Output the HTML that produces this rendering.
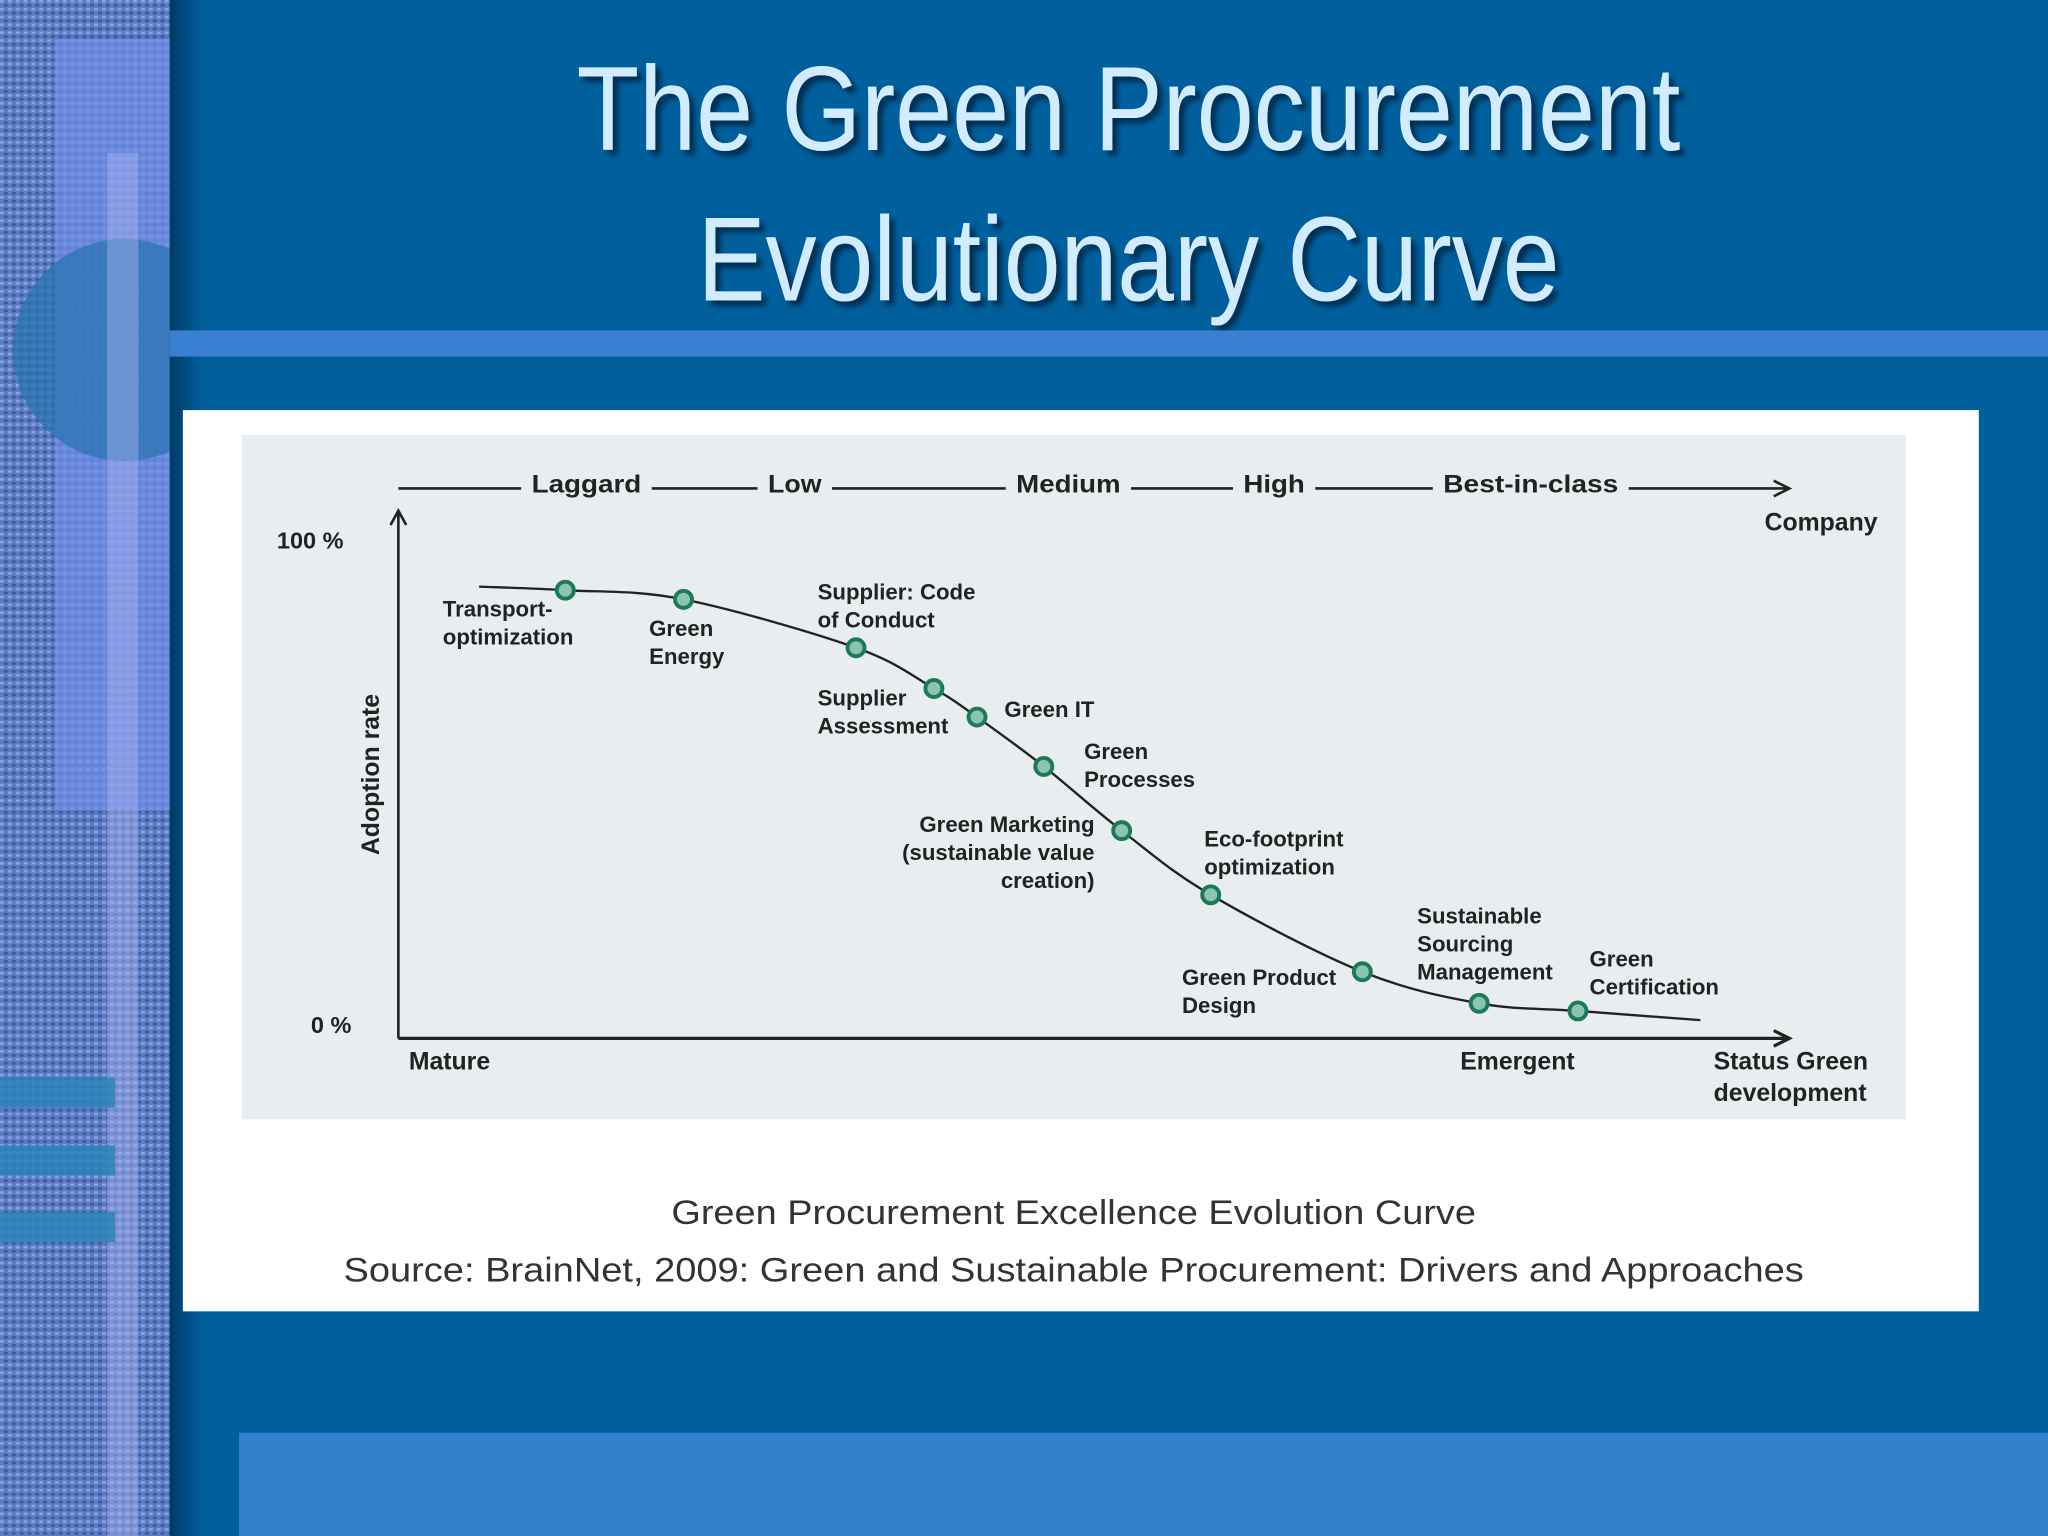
<!DOCTYPE html>
<html><head><meta charset="utf-8"><style>
html,body{margin:0;padding:0;background:#00609e;}
svg{display:block;}
text{font-family:"Liberation Sans",sans-serif;}
</style></head><body>
<svg width="2048" height="1536" viewBox="0 0 1568 1176" xmlns="http://www.w3.org/2000/svg">
<defs>
<pattern id="tex" width="6" height="6" patternUnits="userSpaceOnUse">
<rect width="6" height="6" fill="#5b7bc4"/><rect width="3" height="2" fill="#8aa4e0"/><rect x="3" y="3" width="3" height="2" fill="#3c5aa0"/>
</pattern>
<clipPath id="sideclip"><rect width="130" height="1176"/></clipPath>
<linearGradient id="edge" x1="0" x2="1"><stop offset="0" stop-color="#013a66"/><stop offset="1" stop-color="#00609e"/></linearGradient>
<filter id="sh"><feDropShadow dx="4" dy="4" stdDeviation="2" flood-color="#012a4a" flood-opacity="0.9"/></filter>
</defs>
<rect width="1568" height="1176" fill="#00609e"/>
<g clip-path="url(#sideclip)">
<rect width="130" height="1176" fill="url(#tex)"/>
<rect x="42" y="30" width="88" height="590" fill="#6f8fe8" opacity="0.7"/>
<circle cx="95" cy="268" r="85" fill="#2a74b0" opacity="0.75"/>
<rect x="82" y="117" width="24" height="1059" fill="#a8b4f0" opacity="0.45"/>
<rect x="0" y="825" width="88" height="23" fill="#2a82b8" opacity="0.85"/>
<rect x="0" y="877" width="88" height="23" fill="#2a82b8" opacity="0.85"/>
<rect x="0" y="928" width="88" height="23" fill="#2a82b8" opacity="0.85"/>
</g>
<rect x="130" y="0" width="25" height="1176" fill="url(#edge)"/>
<g filter="url(#sh)" fill="#d2ecff" font-size="92" text-anchor="middle">
<text x="864" y="115" textLength="845" lengthAdjust="spacingAndGlyphs" style="font-family:'Liberation Sans Narrow','Liberation Sans',sans-serif">The Green Procurement</text>
<text x="864" y="230" textLength="660" lengthAdjust="spacingAndGlyphs" style="font-family:'Liberation Sans Narrow','Liberation Sans',sans-serif">Evolutionary Curve</text>
</g>
<rect x="130" y="253" width="1438" height="20" fill="#3a80d0"/>
<rect x="183" y="1097" width="1385" height="79" fill="#3580cc"/>
<rect x="140" y="314" width="1375" height="690" fill="#fff"/>
<rect x="185" y="333" width="1274" height="524" fill="#e8eef0"/>
<g id="chart"></g>
<g fill="#333" font-size="26" text-anchor="middle">
<text x="822" y="937" textLength="616" lengthAdjust="spacingAndGlyphs">Green Procurement Excellence Evolution Curve</text>
<text x="822" y="981" textLength="1118" lengthAdjust="spacingAndGlyphs">Source: BrainNet, 2009: Green and Sustainable Procurement: Drivers and Approaches</text>
</g>
</svg>
<script>
const labels=["Transport-optimization","Green Energy","Supplier: Code of Conduct","Supplier Assessment","Green IT","Green Processes","Green Marketing","Eco-footprint optimization","Green Product Design","Sustainable Sourcing Management","Green Certification"];
const status=[12.0,20.5,32.9,38.5,41.6,46.4,52.0,58.4,69.3,77.7,84.8];
const adoption=[86.7,84.9,75.4,67.4,61.8,52.1,39.5,26.9,11.8,5.6,4.1];
const curveStart=[5.8,87.4];
const curveEnd=[93.6,2.3];
const stages=["Laggard","Low","Medium","High","Best-in-class"];
const NS="http://www.w3.org/2000/svg";
const sx=v=>305+v*(1370-305)/100;
const sy=v=>790-v*390/100;
const g=document.getElementById('chart');
function mk(t,a,txt){const e=document.createElementNS(NS,t);for(const k in a)e.setAttribute(k,a[k]);if(txt!=null)e.textContent=txt;g.appendChild(e);return e;}
let e=mk('path',{d:'M305,795 L305,392 M299,402 L305,391 L311,402',stroke:'#222','stroke-width':2,fill:'none'});


e=mk('path',{d:'M305,795 L1370,795 M1358,789 L1370,795 L1358,801',stroke:'#222','stroke-width':2.5,fill:'none'});


e=mk('path',{d:'M305,374 L1370,374 M1358,368 L1370,374 L1358,380',stroke:'#222','stroke-width':2,fill:'none'});


const stageX=[407,588,778,952,1105];
const stageW=[84,41,80,47,134];
stages.forEach((s,i)=>{
 let r=mk('rect',{x:stageX[i]-8,y:360,width:stageW[i]+16,height:28,fill:'#e8eef0'});
 
 
 let t=mk('text',{x:stageX[i],y:377,'font-size':19,'font-weight':'bold',fill:'#222',textLength:stageW[i],lengthAdjust:'spacingAndGlyphs'},s);
 
 
});
function txt(x,y,lines,anchor,name,size,lh){
 const t=mk('text',{x:x,y:y,'font-size':size||17,'font-weight':'bold',fill:'#222','text-anchor':anchor||'start'});
 
 
 lines.forEach((l,i)=>{const ts=document.createElementNS(NS,'tspan');ts.setAttribute('x',x);ts.setAttribute('dy',i?(lh||21.5):0);ts.textContent=l;t.appendChild(ts);});
}
txt(1351,406,["Company"],'start','company-label',19);
txt(212,420,["100 %"],'start','y-tick-100',18);
txt(238,791,["0 %"],'start','y-tick-0',18);
txt(313,819,["Mature"],'start','mature-label',19);
txt(1118,819,["Emergent"],'start','emergent-label',19);
txt(1312,819,["Status Green","development"],'start','x-axis-title',19,24);
const yt=mk('text',{x:0,y:0,'font-size':19,'font-weight':'bold',fill:'#222','text-anchor':'middle',transform:'translate(290,593) rotate(-90)'},'Adoption rate');


const pts=[[sx(curveStart[0]),sy(curveStart[1])]];
status.forEach((v,i)=>pts.push([sx(v),sy(adoption[i])]));
pts.push([sx(curveEnd[0]),sy(curveEnd[1])]);
let d='M'+pts[0][0]+','+pts[0][1];
for(let i=0;i<pts.length-1;i++){const p0=pts[Math.max(0,i-1)],p1=pts[i],p2=pts[i+1],p3=pts[Math.min(pts.length-1,i+2)];
 d+=' C'+(p1[0]+(p2[0]-p0[0])/6)+','+(p1[1]+(p2[1]-p0[1])/6)+' '+(p2[0]-(p3[0]-p1[0])/6)+','+(p2[1]-(p3[1]-p1[1])/6)+' '+p2[0]+','+p2[1];}
e=mk('path',{d:d,stroke:'#222','stroke-width':1.8,fill:'none'});


status.forEach((v,i)=>{
 const c=mk('circle',{cx:sx(v),cy:sy(adoption[i]),r:6.5,fill:'#8cc4b0',stroke:'#1a7a5a','stroke-width':3});
 
 
});
const L=[[339,472,["Transport-","optimization"],'start'],[497,487,["Green","Energy"],'start'],[626,459,["Supplier: Code","of Conduct"],'start'],[626,540,["Supplier","Assessment"],'start'],[769,549,["Green IT"],'start'],[830,581,["Green","Processes"],'start'],[838,637,["Green Marketing","(sustainable value","creation)"],'end'],[922,648,["Eco-footprint","optimization"],'start'],[905,754,["Green Product","Design"],'start'],[1085,707,["Sustainable","Sourcing","Management"],'start'],[1217,740,["Green","Certification"],'start']];
L.forEach(l=>txt(l[0],l[1],l[2],l[3],'point-label'));
</script>
</body></html>
